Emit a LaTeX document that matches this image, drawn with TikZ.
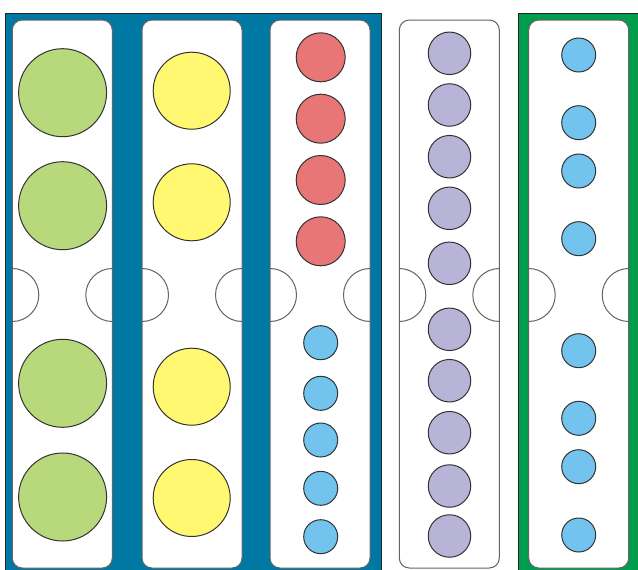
\documentclass[tikz,border=0pt]{standalone}
\definecolor{bgblue}{RGB}{0,120,164}
\definecolor{bggreen}{RGB}{0,158,76}
\definecolor{cgreen}{RGB}{184,216,124}
\definecolor{cyellow}{RGB}{255,248,112}
\definecolor{cred}{RGB}{232,118,118}
\definecolor{cblue}{RGB}{114,196,238}
\definecolor{cpurple}{RGB}{184,180,216}
\definecolor{edgegray}{RGB}{100,100,100}
\tikzset{
  colline/.style={draw=edgegray,line width=1pt},
  halfc/.style={draw=edgegray,line width=1pt},
  ball/.style={circle,draw=black!80,line width=1pt,inner sep=0pt},
  gball/.style={ball,fill=cgreen,minimum size=88pt},
  yball/.style={ball,fill=cyellow,minimum size=77pt},
  rball/.style={ball,fill=cred,minimum size=49pt},
  bball/.style={ball,fill=cblue,minimum size=34pt},
  pball/.style={ball,fill=cpurple,minimum size=42.5pt},
}
\begin{document}
\begin{tikzpicture}[x=1pt,y=-1pt]
\useasboundingbox (0,0) rectangle (638,570);
% backgrounds
\draw[fill=bgblue,draw=black!85,line width=1pt] (5,13.5) rectangle (381,575);
\draw[fill=bggreen,draw=black!85,line width=1pt] (518,13.5) rectangle (645,575);
% columns
\foreach \x [count=\i] in {12.3,142,270,399.3,528.7}{
  \pgfmathsetmacro{\xr}{\x+100}
  \fill[white,rounded corners=10pt] (\x,20) rectangle (\xr,568);
  \begin{scope}
    \clip[rounded corners=10pt] (\x,20) rectangle (\xr,568);
    \draw[halfc] (\x,295) circle (26.5);
    \draw[halfc] (\xr,295) circle (26.5);
  \end{scope}
  \draw[colline,rounded corners=10pt] (\x,20) rectangle (\xr,568);
}
% column 1: green
\foreach \y [count=\i] in {92.7,205.7,383.3,497}{
  \node[gball] (g\i) at (62.6,\y) {};
}
% column 2: yellow
\foreach \y [count=\i] in {90.7,202.3,386.7,498}{
  \node[yball] (y\i) at (191.7,\y) {};
}
% column 3: red and blue
\foreach \y [count=\i] in {57.3,118.7,180,241.3}{
  \node[rball] (r\i) at (320.7,\y) {};
}
\foreach \y [count=\i] in {342.7,393.3,440,488.3,536.7}{
  \node[bball] (b\i) at (320.7,\y) {};
}
% column 4: purple
\foreach \y [count=\i] in {53.3,105,156.7,208.3,263.3,329.3,380.7,432.7,486,536}{
  \node[pball] (p\i) at (449.5,\y) {};
}
% column 5: blue
\foreach \y [count=\i] in {55,122.7,171,238.7,350.7,418.3,466.7,535}{
  \node[bball] (c\i) at (578.7,\y) {};
}
\end{tikzpicture}
\end{document}
